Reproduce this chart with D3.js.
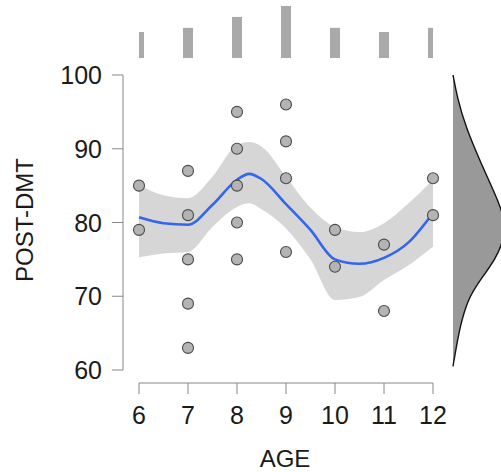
<!DOCTYPE html>
<html>
<head>
<meta charset="utf-8">
<script src="https://cdn.jsdelivr.net/npm/d3@7"></script>
<style>
  body { margin: 0; background: #fff; }
  text { font-family: "Liberation Sans", Arial, sans-serif; fill: #1a1a1a; }
</style>
</head>
<body>
<div id="chart"></div>
<script>
// data
const ageX = [6, 6, 7, 7, 7, 7, 7, 8, 8, 8, 8, 8, 9, 9, 9, 9, 10, 10, 11, 11, 12, 12];
const postY = [85, 79, 87, 81, 75, 69, 63, 95, 90, 85, 80, 75, 96, 91, 86, 76, 79, 74, 77, 68, 86, 81];

// loess fit and band
const fitX = [6, 6.5, 7, 7.5, 8, 8.25, 8.5, 9, 9.5, 10, 10.5, 11, 11.5, 12];
const fitY = [80.7, 79.9, 79.7, 82.4, 85.8, 86.6, 85.9, 82.5, 79, 75, 74.4, 75.2, 77.3, 81.3];
const fitHi = [85.1, 83.7, 83.3, 86.2, 90.5, 90.9, 90.3, 86.2, 82, 79.4, 78.7, 79.9, 82.6, 85.8];
const fitLo = [75.3, 75.8, 76, 79.4, 82.1, 82.6, 81.8, 79.2, 75, 69.5, 69.9, 72.2, 74.2, 76.7];

// top marginal bars
const barAges = [6, 7, 8, 9, 10, 11, 12];
const barVals = [5, 5.8, 7.9, 10, 5.8, 5, 5.8];

// right marginal density
const densY = [60.5, 63, 66, 69.5, 72, 75, 78, 81, 84, 88, 93, 97, 100];
const densV = [0, 0.003, 0.007, 0.014, 0.025, 0.041, 0.05, 0.049, 0.04, 0.027, 0.012, 0.004, 0];

const xTicks = [6, 7, 8, 9, 10, 11, 12];
const yTicks = [60, 70, 80, 90, 100];

const width = 501, height = 472;

const svg = d3.select("#chart").append("svg")
    .attr("width", width)
    .attr("height", height);

const x = d3.scaleLinear().domain([6, 12]).range([139, 433]);
const y = d3.scaleLinear().domain([60, 100]).range([370, 75]);

// band
const fit = fitX.map((d, i) => ({x: d, y: fitY[i], lo: fitLo[i], hi: fitHi[i]}));
svg.append("path")
    .datum(fit)
    .attr("d", d3.area().x(d => x(d.x)).y0(d => y(d.lo)).y1(d => y(d.hi)).curve(d3.curveMonotoneX))
    .style("fill", "#d6d6d6");

svg.append("path")
    .datum(fit)
    .attr("d", d3.line().x(d => x(d.x)).y(d => y(d.y)).curve(d3.curveMonotoneX))
    .style("fill", "none")
    .style("stroke", "#3366ee")
    .style("stroke-width", 2.6);

// points
svg.selectAll(".pt")
    .data(ageX.map((d, i) => [d, postY[i]]))
    .enter()
    .append("circle")
    .attr("class", "pt")
    .attr("cx", d => x(d[0]))
    .attr("cy", d => y(d[1]))
    .attr("r", 5.5)
    .style("fill", "#b4b4b4")
    .style("stroke", "#4a4a4a")
    .style("stroke-width", 1.1);

// axes (base R style)
const axisCol = "#888";
const xa = svg.append("g").attr("transform", "translate(0,383)");
xa.append("line").attr("x1", x(6)).attr("x2", x(12)).style("stroke", axisCol);
xa.selectAll("line.t").data(xTicks).enter().append("line")
    .attr("x1", d => x(d)).attr("x2", d => x(d)).attr("y1", 0).attr("y2", 11)
    .style("stroke", axisCol);
xa.selectAll("text").data(xTicks).enter().append("text")
    .attr("x", d => x(d)).attr("y", 41)
    .attr("text-anchor", "middle")
    .style("font-size", "25px")
    .text(d => d);

const ya = svg.append("g").attr("transform", "translate(123,0)");
ya.append("line").attr("y1", y(60)).attr("y2", y(100)).style("stroke", axisCol);
ya.selectAll("line.t").data(yTicks).enter().append("line")
    .attr("y1", d => y(d)).attr("y2", d => y(d)).attr("x1", -11).attr("x2", 0)
    .style("stroke", axisCol);
ya.selectAll("text").data(yTicks).enter().append("text")
    .attr("x", -21).attr("y", d => y(d))
    .attr("dy", "0.36em")
    .attr("text-anchor", "end")
    .style("font-size", "25px")
    .text(d => d);

svg.append("text")
    .attr("x", 285).attr("y", 467)
    .attr("text-anchor", "middle")
    .style("font-size", "24px")
    .text("AGE");

svg.append("text")
    .attr("transform", "translate(33,220) rotate(-90)")
    .attr("text-anchor", "middle")
    .style("font-size", "24px")
    .text("POST-DMT");

// top marginal bars, cut to the x range at both ends
const hb = d3.scaleLinear().domain([0, 10]).range([58, 6]);
svg.append("g")
    .selectAll("rect")
    .data(barAges.map((d, i) => [d, barVals[i]]))
    .enter()
    .append("rect")
    .attr("x", d => Math.max(x(d[0]) - 5, x(6)))
    .attr("width", d => Math.min(x(d[0]) + 5, x(12)) - Math.max(x(d[0]) - 5, x(6)))
    .attr("y", d => hb(d[1]))
    .attr("height", d => hb(0) - hb(d[1]))
    .style("fill", "#a9a9a9");

// right marginal density
const dx = d3.scaleLinear().domain([0, 0.05]).range([453, 505]);
const dens = densY.map((d, i) => [d, densV[i]]);
svg.append("path")
    .datum(dens)
    .attr("d", d3.area().y(d => y(d[0])).x0(dx(0)).x1(d => dx(d[1])).curve(d3.curveBasis))
    .style("fill", "#999");
svg.append("path")
    .datum(dens)
    .attr("d", d3.line().y(d => y(d[0])).x(d => dx(d[1])).curve(d3.curveBasis))
    .style("fill", "none")
    .style("stroke", "#111")
    .style("stroke-width", 1.4);
</script>
</body>
</html>
